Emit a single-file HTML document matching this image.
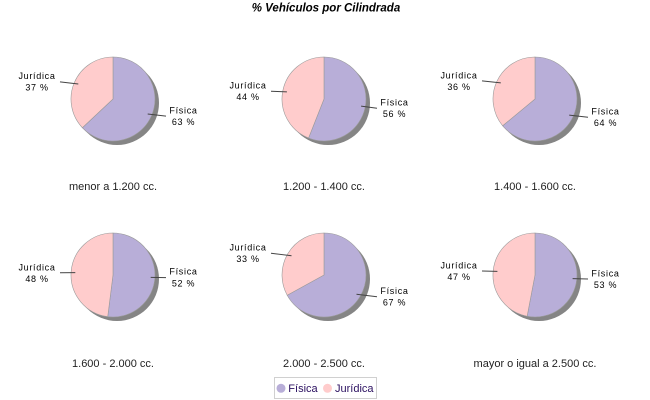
<!DOCTYPE html>
<html>
<head>
<meta charset="utf-8">
<style>
html,body{margin:0;padding:0;background:#fff;}
svg{display:block;}
.lbl{font-family:"Liberation Sans",Arial,sans-serif;font-size:9px;letter-spacing:0.7px;fill:#000;}
.cat{font-family:"Liberation Sans",Arial,sans-serif;font-size:11px;fill:#222;}
.leg{font-family:"Liberation Sans",Arial,sans-serif;font-size:11px;fill:#2b1060;}
</style>
</head>
<body>
<svg width="650" height="400" viewBox="0 0 650 400" xmlns="http://www.w3.org/2000/svg">
<rect width="650" height="400" fill="#fff"/>
<text x="326" y="11.5" text-anchor="middle" font-family="Liberation Sans,Arial,sans-serif" font-size="11.5" font-weight="bold" font-style="italic" fill="#000">% Vehículos por Cilindrada</text>

<!-- Pie 1 -->
<circle cx="117" cy="103" r="42" fill="#858585"/>
<path d="M113,99 L113,57 A42,42 0 1 1 82.38,127.75 Z" fill="#b8aed8" stroke="#9a9a9a" stroke-width="0.6"/>
<path d="M113,99 L82.38,127.75 A42,42 0 0 1 113,57 Z" fill="#ffcccc" stroke="#9a9a9a" stroke-width="0.6"/>
<line x1="147.7" y1="114" x2="166" y2="116.1" stroke="#444" stroke-width="1"/>
<line x1="78.3" y1="84" x2="60" y2="81.9" stroke="#444" stroke-width="1"/>
<text class="lbl" x="183.5" y="113.4" text-anchor="middle">Física</text>
<text class="lbl" x="183.5" y="124.9" text-anchor="middle">63 %</text>
<text class="lbl" x="37" y="79.2" text-anchor="middle">Jurídica</text>
<text class="lbl" x="37" y="90.7" text-anchor="middle">37 %</text>
<text class="cat" x="113" y="190" text-anchor="middle">menor a 1.200 cc.</text>

<!-- Pie 2 -->
<circle cx="328" cy="103" r="42" fill="#858585"/>
<path d="M324,99 L324,57 A42,42 0 1 1 308.54,138.05 Z" fill="#b8aed8" stroke="#9a9a9a" stroke-width="0.6"/>
<path d="M324,99 L308.54,138.05 A42,42 0 0 1 324,57 Z" fill="#ffcccc" stroke="#9a9a9a" stroke-width="0.6"/>
<line x1="361.1" y1="106.1" x2="377" y2="108.3" stroke="#444" stroke-width="1"/>
<line x1="286.9" y1="91.9" x2="271" y2="91.2" stroke="#444" stroke-width="1"/>
<text class="lbl" x="394.5" y="105.6" text-anchor="middle">Física</text>
<text class="lbl" x="394.5" y="117.1" text-anchor="middle">56 %</text>
<text class="lbl" x="248" y="88.5" text-anchor="middle">Jurídica</text>
<text class="lbl" x="248" y="100" text-anchor="middle">44 %</text>
<text class="cat" x="324" y="190" text-anchor="middle">1.200 - 1.400 cc.</text>

<!-- Pie 3 -->
<circle cx="539" cy="103" r="42" fill="#858585"/>
<path d="M535,99 L535,57 A42,42 0 1 1 502.64,125.77 Z" fill="#b8aed8" stroke="#9a9a9a" stroke-width="0.6"/>
<path d="M535,99 L502.64,125.77 A42,42 0 0 1 535,57 Z" fill="#ffcccc" stroke="#9a9a9a" stroke-width="0.6"/>
<line x1="569.2" y1="115.1" x2="588" y2="117.3" stroke="#444" stroke-width="1"/>
<line x1="500.8" y1="82.9" x2="482" y2="80.9" stroke="#444" stroke-width="1"/>
<text class="lbl" x="605.5" y="114.6" text-anchor="middle">Física</text>
<text class="lbl" x="605.5" y="126.1" text-anchor="middle">64 %</text>
<text class="lbl" x="459" y="78.6" text-anchor="middle">Jurídica</text>
<text class="lbl" x="459" y="90.1" text-anchor="middle">36 %</text>
<text class="cat" x="535" y="190" text-anchor="middle">1.400 - 1.600 cc.</text>

<!-- Pie 4 -->
<circle cx="117" cy="279" r="42" fill="#858585"/>
<path d="M113,275 L113,233 A42,42 0 1 1 107.74,316.67 Z" fill="#b8aed8" stroke="#9a9a9a" stroke-width="0.6"/>
<path d="M113,275 L107.74,316.67 A42,42 0 0 1 113,233 Z" fill="#ffcccc" stroke="#9a9a9a" stroke-width="0.6"/>
<line x1="150.7" y1="277.4" x2="166" y2="277.6" stroke="#444" stroke-width="1"/>
<line x1="75.3" y1="272.6" x2="60" y2="272.8" stroke="#444" stroke-width="1"/>
<text class="lbl" x="183.5" y="274.6" text-anchor="middle">Física</text>
<text class="lbl" x="183.5" y="286.4" text-anchor="middle">52 %</text>
<text class="lbl" x="37" y="270.4" text-anchor="middle">Jurídica</text>
<text class="lbl" x="37" y="282" text-anchor="middle">48 %</text>
<text class="cat" x="113" y="367" text-anchor="middle">1.600 - 2.000 cc.</text>

<!-- Pie 5 -->
<circle cx="328" cy="279" r="42" fill="#858585"/>
<path d="M324,275 L324,233 A42,42 0 1 1 287.2,295.24 Z" fill="#b8aed8" stroke="#9a9a9a" stroke-width="0.6"/>
<path d="M324,275 L287.2,295.24 A42,42 0 0 1 324,233 Z" fill="#ffcccc" stroke="#9a9a9a" stroke-width="0.6"/>
<line x1="356.5" y1="294.2" x2="377" y2="296.8" stroke="#444" stroke-width="1"/>
<line x1="291.5" y1="255.8" x2="271" y2="253.2" stroke="#444" stroke-width="1"/>
<text class="lbl" x="394.5" y="294.1" text-anchor="middle">Física</text>
<text class="lbl" x="394.5" y="305.6" text-anchor="middle">67 %</text>
<text class="lbl" x="248" y="250.6" text-anchor="middle">Jurídica</text>
<text class="lbl" x="248" y="262" text-anchor="middle">33 %</text>
<text class="cat" x="324" y="367" text-anchor="middle">2.000 - 2.500 cc.</text>

<!-- Pie 6 -->
<circle cx="539" cy="279" r="42" fill="#858585"/>
<path d="M535,275 L535,233 A42,42 0 1 1 527.13,316.26 Z" fill="#b8aed8" stroke="#9a9a9a" stroke-width="0.6"/>
<path d="M535,275 L527.13,316.26 A42,42 0 0 1 535,233 Z" fill="#ffcccc" stroke="#9a9a9a" stroke-width="0.6"/>
<line x1="572.6" y1="278.6" x2="588" y2="279" stroke="#444" stroke-width="1"/>
<line x1="497.4" y1="271.4" x2="482" y2="271" stroke="#444" stroke-width="1"/>
<text class="lbl" x="605.5" y="276.3" text-anchor="middle">Física</text>
<text class="lbl" x="605.5" y="287.8" text-anchor="middle">53 %</text>
<text class="lbl" x="459" y="268.3" text-anchor="middle">Jurídica</text>
<text class="lbl" x="459" y="279.8" text-anchor="middle">47 %</text>
<text class="cat" x="535" y="367" text-anchor="middle">mayor o igual a 2.500 cc.</text>

<!-- Legend -->
<rect x="274.5" y="377.5" width="102" height="21" fill="#fff" stroke="#d0d0d0" stroke-width="1"/>
<circle cx="281" cy="388.3" r="4.5" fill="#b8aed8"/>
<text class="leg" x="288.3" y="392">Física</text>
<circle cx="327.5" cy="388.3" r="4.5" fill="#ffcccc"/>
<text class="leg" x="335" y="392">Jurídica</text>
</svg>
</body>
</html>
